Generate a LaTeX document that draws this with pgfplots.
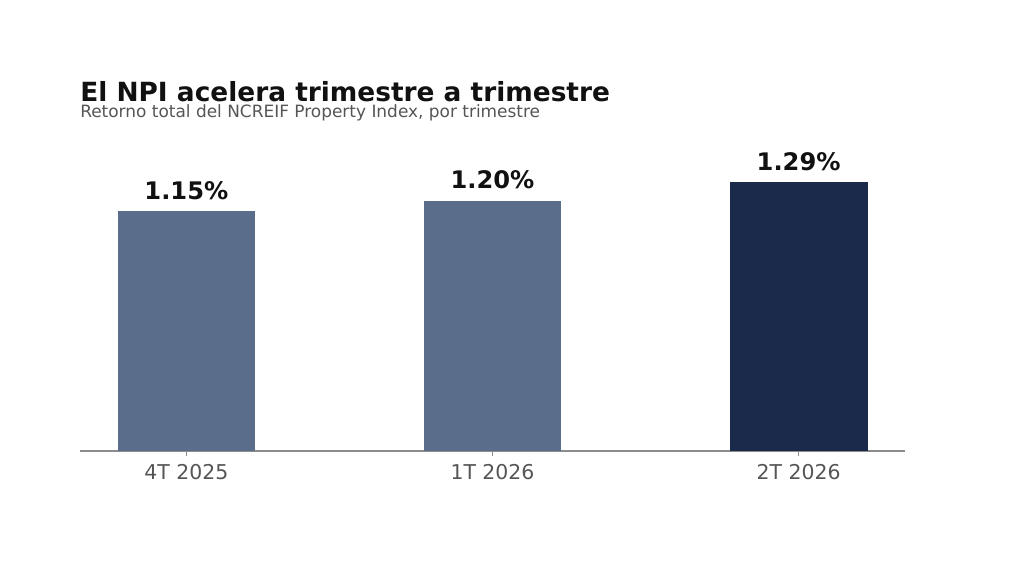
\documentclass[border=0pt]{standalone}
\usepackage{fontspec}
\setmainfont{DejaVu Sans}
\usepackage{pgfplots}
\pgfplotsset{compat=1.18}
\definecolor{barlight}{HTML}{5A6E8C}
\definecolor{bardark}{HTML}{1B2A4A}
\definecolor{axisgray}{HTML}{8C8C8C}
\definecolor{labgray}{HTML}{555555}
\definecolor{titleblack}{HTML}{111111}
\begin{document}
\begin{tikzpicture}[x=0.72pt,y=0.72pt]
\fill[white] (0,0) rectangle (1024,576);
\node[anchor=base west, inner sep=0pt, text=titleblack, font=\bfseries\fontsize{19}{19}\selectfont] at (80,474.5) {El NPI acelera trimestre a trimestre};
\node[anchor=base west, inner sep=0pt, text=labgray, font=\fontsize{12.2}{12.2}\selectfont] at (80,458) {Retorno total del NCREIF Property Index, por trimestre};
\begin{axis}[
  at={(80*0.72pt,125*0.72pt)}, anchor=south west,
  scale only axis, width=594pt, height=225.18pt,
  xmin=-0.3475, xmax=2.3475, ymin=0, ymax=1.5,
  ybar, bar width=0.45, bar shift=0pt,
  hide y axis,
  axis x line=bottom, axis line style={-},
  x axis line style={draw=axisgray, line width=0.9pt},
  xtick={0,1,2}, xticklabels={4T 2025,1T 2026,2T 2026},
  xtick style={draw=axisgray, line width=0.9pt},
  tick align=outside, major tick length=3.6pt,
  xticklabel style={text=labgray, font=\fontsize{14.7}{14.7}\selectfont, yshift=-2.7pt},
  /pgf/number format/assume math mode=true,
  nodes near coords={\pgfmathprintnumber[fixed,fixed zerofill,precision=2,assume math mode=true]{\pgfplotspointmeta}\%},
  every node near coord/.append style={font=\bfseries\fontsize{17.4}{17.4}\selectfont, text=titleblack, anchor=base, yshift=8.6pt, inner sep=0pt},
  clip=false,
]
\addplot[fill=barlight, draw=none] coordinates {(0,1.15)};
\addplot[fill=barlight, draw=none] coordinates {(1,1.20)};
\addplot[fill=bardark, draw=none] coordinates {(2,1.29)};
\end{axis}
\end{tikzpicture}
\end{document}
